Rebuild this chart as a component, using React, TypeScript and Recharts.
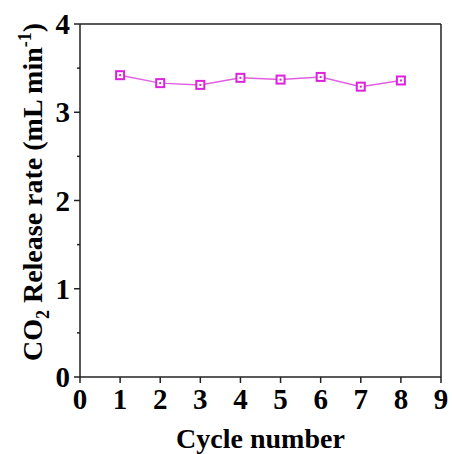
import React from 'react';
import { LineChart, Line, XAxis, YAxis, ReferenceLine } from 'recharts';

const cycles = [1, 2, 3, 4, 5, 6, 7, 8];
const rates = [3.42, 3.33, 3.31, 3.39, 3.37, 3.40, 3.29, 3.36];
const xTicks = [0, 1, 2, 3, 4, 5, 6, 7, 8, 9];
const yTicks = [0, 0.5, 1, 1.5, 2, 2.5, 3, 3.5, 4];

const data = cycles.map((c, i) => ({ cycle: c, rate: rates[i] }));

const FONT = '"Liberation Serif", "Times New Roman", serif';
const MAGENTA = '#dd22dd';
const AXIS = '#222';

// open square marker with a small centre dot
const SquareDot = (props: any) => {
  const { cx, cy } = props;
  if (cx == null || cy == null) return null;
  return (
    <g>
      <rect x={cx - 4} y={cy - 4} width={8} height={8} fill="#fff" stroke={MAGENTA} strokeWidth={2} />
      <rect x={cx - 1} y={cy - 1} width={2} height={2} fill={MAGENTA} />
    </g>
  );
};

// y ticks: major ones labelled, half steps as short minor ticks
const YTick = (props: any) => {
  const { x, y, payload } = props;
  const major = Number.isInteger(payload.value);
  return (
    <g>
      <line x1={x - (major ? 6 : 3)} x2={x} y1={y} y2={y} stroke={AXIS} strokeWidth={1.5} />
      {major && (
        <text x={x - 10} y={y} dy="0.35em" textAnchor="end" fontFamily={FONT} fontWeight="bold" fontSize={29} fill="#000">
          {payload.value}
        </text>
      )}
    </g>
  );
};

const YLabel = () => (
  <text
    transform="translate(32,192) rotate(-90)"
    textAnchor="middle"
    dy="0.35em"
    fontFamily={FONT}
    fontWeight="bold"
    fontSize={28}
    fill="#000"
  >
    CO<tspan fontSize={18} dy={7}>2</tspan>
    <tspan dy={-7}> Release rate (mL min</tspan>
    <tspan fontSize={18} dy={-11}>-1</tspan>
    <tspan dy={11}>)</tspan>
  </text>
);

export default function App() {
  return (
    <div style={{ position: 'absolute', left: 0, top: 0, background: '#fff' }}>
      <LineChart width={452} height={454} data={data} margin={{ top: 24, right: 11, left: 0, bottom: 0 }}>
        <XAxis
          dataKey="cycle"
          type="number"
          domain={[0, 9]}
          ticks={xTicks}
          interval={0}
          height={77}
          tickSize={6}
          tickMargin={5}
          stroke={AXIS}
          strokeWidth={1.5}
          tick={{ fontFamily: FONT, fontWeight: 'bold', fontSize: 29, fill: '#000' }}
          label={{ value: 'Cycle number', position: 'insideBottom', offset: 6, style: { fontFamily: FONT, fontWeight: 'bold', fontSize: 28, fill: '#000' } }}
        />
        <YAxis
          type="number"
          domain={[0, 4]}
          ticks={yTicks}
          interval={0}
          width={80}
          tickSize={0}
          tickMargin={0}
          tickLine={false}
          stroke={AXIS}
          strokeWidth={1.5}
          tick={<YTick />}
          label={{ content: () => <YLabel /> }}
        />
        <ReferenceLine y={4} stroke={AXIS} strokeWidth={1.5} />
        <ReferenceLine x={9} stroke={AXIS} strokeWidth={1.5} />
        <Line
          type="linear"
          dataKey="rate"
          stroke="#e060e0"
          strokeWidth={1.5}
          dot={<SquareDot />}
          activeDot={false}
          isAnimationActive={false}
        />
      </LineChart>
    </div>
  );
}
